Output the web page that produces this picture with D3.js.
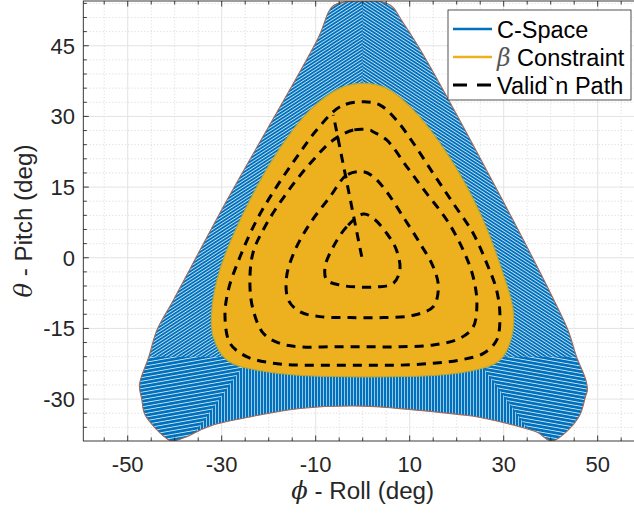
<!DOCTYPE html>
<html>
<head>
<meta charset="utf-8">
<script src="https://cdn.jsdelivr.net/npm/d3@7"></script>
<style>
  html, body { margin: 0; padding: 0; background: #fff; }
  svg { display: block; font-family: "Liberation Sans", Arial, Helvetica, sans-serif; }
</style>
</head>
<body>
<svg id="chart" width="634" height="514"></svg>
<script>
// ---------------- DATA ----------------
// C-Space outer boundary (phi = roll, theta = pitch), degrees
const cspaceRoll  = [-9.5, -6.5, -3.3, 0, 3.8, 6.3, 8.2, 12.3, 29.4, 40.7, 43.7, 45.5, 47.5, 47.8, 47.4, 46.2, 43.7, 40.2,
                     37.0, 32.0, 25.0, 21.6, 10.9, 0, -13.3, -24.0, -31.8, -34.6, -37.4, -40.6,
                     -41.7, -46.3, -47.0, -47.5, -45.5, -43.8, -40.3, -28.9];
const cspacePitch = [46.6, 53.3, 54.4, 54.5, 54.4, 53.3, 50.5, 44.1, 12.9, -9.0, -15.4, -21.0, -26.0, -28.1, -29.5, -33.4, -36.6, -38.9,
                     -37.0, -35.5, -33.9, -33.4, -32.3, -31.5, -32.0, -33.8, -35.5, -36.6, -38.0, -38.9,
                     -38.4, -33.4, -30.1, -27.0, -21.0, -15.4, -9.0, 12.2];

// Beta constraint boundary
const betaRoll  = [0.1, 5.0, 10.8, 17.9, 25.0, 29.6, 32.0, 31.7, 29.2, 22.1, 0.8, -20.4, -28.9, -31.8, -32.1, -30.4, -25.4, -18.3, -11.2, -4.8];
const betaPitch = [37.0, 36.0, 31.35, 22.2, 9.4, -2.6, -11.1, -16.8, -21.7, -24.2, -25.3, -24.2, -21.7, -16.8, -11.1, -2.6, 9.4, 22.2, 31.35, 36.0];

// Validation path: four closed loops + radial segment
const loop1Roll  = [0.13, -3.4, -6.26, -8.0, -7.66, -4.8, -1.28, 3.0, 6.5, 7.9, 7.2, 5.1, 2.26];
const loop1Pitch = [9.27, 6.57, 2.32, -1.9, -4.7, -5.8, -6.2, -6.2, -5.45, -2.6, 1.6, 5.2, 8.35];
const loop2Roll  = [0.13, -3.4, -6.96, -11.2, -14.4, -16.2, -15.8, -13.3, -9.1, -2.7, 4.4, 10.8, 15.0, 16.1, 15.0, 12.2, 8.6, 5.1, 2.26];
const loop2Pitch = [18.25, 17.55, 12.94, 7.3, 1.6, -4.05, -9.0, -11.5, -12.5, -12.7, -12.7, -12.2, -10.4, -6.2, -1.9, 3.05, 8.7, 14.0, 17.2];
const loop3Roll  = [1.55, -2.0, -6.26, -11.2, -16.2, -20.4, -23.3, -24.0, -23.3, -21.1, -17.6, -13.3, -6.26, 0.85, 7.9, 15.0, 20.7, 23.5, 24.3, 23.5, 21.4, 17.9, 13.6, 9.4, 5.1, 2.3];
const loop3Pitch = [27.1, 27.1, 25.0, 20.0, 13.7, 7.3, 1.2, -5.45, -11.1, -16.1, -18.2, -18.9, -18.9, -18.9, -18.9, -18.5, -17.1, -14.7, -9.7, -4.05, 1.6, 8.0, 13.65, 19.3, 25.0, 26.7];
const loop4Roll  = [0.13, -4.83, -9.8, -14.0, -18.3, -22.55, -26.1, -28.6, -29.3, -28.2, -24.7, -19.0, -13.3, -6.3, 0.85, 7.9, 15.0, 20.7, 25.7, 28.5, 29.2, 28.5, 26.4, 23.5, 19.3, 15.0, 10.8, 7.2, 3.7];
const loop4Pitch = [33.1, 32.05, 27.1, 21.4, 15.1, 8.0, 0.2, -6.9, -12.5, -18.2, -21.0, -22.4, -22.8, -22.8, -22.8, -22.8, -22.4, -21.7, -20.3, -17.5, -12.5, -6.9, -1.2, 5.2, 11.5, 17.9, 24.3, 29.2, 32.4];
const radialRoll  = [-0.2, -6.25];
const radialPitch = [0.2, 30.3];

// Axes
const xLimits = [-59.45, 59.45];
const yLimits = [-38.9, 54.5];
const xTicks = [-50, -30, -10, 10, 30, 50];
const yTicks = [-30, -15, 0, 15, 30, 45];
const xMinorStep = 5;
const yMinorStep = 3;
const legendLabels = ["C-Space", "\u03B2 Constraint", "Valid`n Path"];

// ---------------- DRAWING ----------------
const svg = d3.select("#chart");
const L = 83.3, R = 642.1, T = 1, B = 441;
const x = d3.scaleLinear().domain(xLimits).range([L, R]);
const y = d3.scaleLinear().domain(yLimits).range([B, T]);
const ink = "#262626";

const zip = (a, b) => a.map((v, i) => [v, b[i]]);
const rangeStep = (lo, hi, step) => {
  const out = [];
  for (let v = Math.ceil(lo / step) * step; v <= hi + 1e-9; v += step) out.push(+v.toFixed(6));
  return out;
};
const xMinor = rangeStep(xLimits[0], xLimits[1], xMinorStep).filter(v => !xTicks.includes(v));
const yMinor = rangeStep(yLimits[0], yLimits[1], yMinorStep).filter(v => !yTicks.includes(v));

const defs = svg.append("defs");
defs.append("clipPath").attr("id", "axclip")
  .append("rect").attr("x", L).attr("y", T).attr("width", R - L).attr("height", B - T);

function hatch(id, angle, period, thick) {
  const p = defs.append("pattern").attr("id", id)
    .attr("patternUnits", "userSpaceOnUse")
    .attr("width", 12).attr("height", period)
    .attr("patternTransform", `rotate(${angle})`);
  p.append("rect").attr("width", 12).attr("height", thick).attr("fill", "#fff").attr("fill-opacity", 0.8);
}
hatch("hatchL", -33, 2.7, 0.85);
hatch("hatchR", 33, 2.7, 0.85);
hatch("hatchLL", -10, 3.6, 0.9);
hatch("hatchRL", 10, 3.6, 0.9);
hatch("hatchC", 90, 3.0, 0.75);

const closedLine = d3.line().x(d => x(d[0])).y(d => y(d[1])).curve(d3.curveCatmullRomClosed.alpha(0.5));
const openLine = d3.line().x(d => x(d[0])).y(d => y(d[1]));
const polyLine = d3.line().x(d => x(d[0])).y(d => y(d[1])).curve(d3.curveLinearClosed);
const cspacePts = zip(cspaceRoll, cspacePitch);
defs.append("clipPath").attr("id", "csclip")
  .append("path").attr("d", closedLine(cspacePts));

// grid
const grid = svg.append("g");
grid.selectAll(".xmin").data(xMinor).join("line")
  .attr("x1", d => x(d)).attr("x2", d => x(d)).attr("y1", T).attr("y2", B)
  .attr("stroke", "#d6d6d6").attr("stroke-width", 0.8).attr("stroke-dasharray", "1.2,2");
grid.selectAll(".ymin").data(yMinor).join("line")
  .attr("y1", d => y(d)).attr("y2", d => y(d)).attr("x1", L).attr("x2", R)
  .attr("stroke", "#d6d6d6").attr("stroke-width", 0.8).attr("stroke-dasharray", "1.2,2");
grid.selectAll(".xmaj").data(xTicks).join("line")
  .attr("x1", d => x(d)).attr("x2", d => x(d)).attr("y1", T).attr("y2", B)
  .attr("stroke", "#e3e3e3").attr("stroke-width", 1);
grid.selectAll(".ymaj").data(yTicks).join("line")
  .attr("y1", d => y(d)).attr("y2", d => y(d)).attr("x1", L).attr("x2", R)
  .attr("stroke", "#e3e3e3").attr("stroke-width", 1);

// plot
const plot = svg.append("g").attr("clip-path", "url(#axclip)");
plot.append("path").attr("d", closedLine(cspacePts)).attr("fill", "#0072BD");
const hatchG = plot.append("g").attr("clip-path", "url(#csclip)");
const X0 = xLimits[0], X1 = xLimits[1], Y0 = yLimits[0], Y1 = yLimits[1];
const regions = [
  { pts: [[X0, Y1], [0, Y1], [0, -21], [X0, -21]], fill: "url(#hatchL)" },
  { pts: [[0, Y1], [X1, Y1], [X1, -21], [0, -21]], fill: "url(#hatchR)" },
  { pts: [[X0, -21], [-24, -21], [-37, Y0], [X0, Y0]], fill: "url(#hatchLL)" },
  { pts: [[24, -21], [X1, -21], [X1, Y0], [37, Y0]], fill: "url(#hatchRL)" },
  { pts: [[-24, -21], [24, -21], [37, Y0], [-37, Y0]], fill: "url(#hatchC)" }
];
regions.forEach(r => hatchG.append("path").attr("d", polyLine(r.pts)).attr("fill", r.fill));
plot.append("path").attr("d", closedLine(cspacePts)).attr("fill", "none")
  .attr("stroke", "#A0695A").attr("stroke-width", 1.1);

plot.append("path").attr("d", closedLine(zip(betaRoll, betaPitch)))
  .attr("fill", "#EDB120").attr("stroke", "#B3A83A").attr("stroke-width", 1.2);

const dashStyle = sel => sel.attr("fill", "none").attr("stroke", "#000")
  .attr("stroke-width", 3).attr("stroke-dasharray", "9,7").attr("stroke-linecap", "butt");
[[loop1Roll, loop1Pitch], [loop2Roll, loop2Pitch], [loop3Roll, loop3Pitch], [loop4Roll, loop4Pitch]]
  .forEach(([a, b]) => plot.append("path").attr("d", closedLine(zip(a, b))).call(dashStyle));
plot.append("path").attr("d", openLine(zip(radialRoll, radialPitch))).call(dashStyle);

// axes box + ticks
const ax = svg.append("g").attr("stroke", ink).attr("fill", "none");
ax.append("rect").attr("x", L).attr("y", T).attr("width", R - L).attr("height", B - T).attr("stroke-width", 0.9);
const tl = 5.5, tm = 3.5;
xTicks.forEach(v => {
  ax.append("line").attr("x1", x(v)).attr("x2", x(v)).attr("y1", B).attr("y2", B - tl);
  ax.append("line").attr("x1", x(v)).attr("x2", x(v)).attr("y1", T).attr("y2", T + tl);
});
xMinor.forEach(v => {
  ax.append("line").attr("x1", x(v)).attr("x2", x(v)).attr("y1", B).attr("y2", B - tm);
  ax.append("line").attr("x1", x(v)).attr("x2", x(v)).attr("y1", T).attr("y2", T + tm);
});
yTicks.forEach(v => {
  ax.append("line").attr("y1", y(v)).attr("y2", y(v)).attr("x1", L).attr("x2", L + tl);
  ax.append("line").attr("y1", y(v)).attr("y2", y(v)).attr("x1", R).attr("x2", R - tl);
});
yMinor.forEach(v => {
  ax.append("line").attr("y1", y(v)).attr("y2", y(v)).attr("x1", L).attr("x2", L + tm);
  ax.append("line").attr("y1", y(v)).attr("y2", y(v)).attr("x1", R).attr("x2", R - tm);
});
ax.selectAll("line").attr("stroke-width", 0.9);

// tick labels
const tf = 22;
svg.append("g").selectAll("text").data(xTicks).join("text")
  .attr("x", d => x(d)).attr("y", 472).attr("text-anchor", "middle")
  .attr("font-size", tf).attr("fill", ink).text(d => d);
svg.append("g").selectAll("text").data(yTicks).join("text")
  .attr("x", 75).attr("y", d => y(d) + 8).attr("text-anchor", "end")
  .attr("font-size", tf).attr("fill", ink).text(d => d);

// axis labels
const xl = svg.append("text").attr("x", (L + R) / 2).attr("y", 499).attr("text-anchor", "middle")
  .attr("font-size", 24.2).attr("fill", ink);
xl.append("tspan").attr("font-style", "italic").attr("font-family", "'DejaVu Serif', serif").text("\u03D5");
xl.append("tspan").text(" - Roll (deg)");
const yl = svg.append("text").attr("transform", `translate(32,${(T + B) / 2}) rotate(-90)`)
  .attr("text-anchor", "middle").attr("font-size", 24.2).attr("fill", ink);
yl.append("tspan").attr("font-style", "italic").attr("font-family", "'DejaVu Serif', serif").text("\u03B8");
yl.append("tspan").text(" - Pitch (deg)");

// legend
const lg = svg.append("g");
lg.append("rect").attr("x", 448).attr("y", 10).attr("width", 183).attr("height", 90)
  .attr("fill", "#fff").attr("stroke", ink).attr("stroke-width", 0.8);
const rows = [29, 57, 85];
const lstyles = [
  { c: "#0072BD", dash: null },
  { c: "#EDB120", dash: null },
  { c: "#000", dash: "14,10" }
];
legendLabels.forEach((lab, i) => {
  const ln = lg.append("line").attr("x1", 453).attr("x2", 492).attr("y1", rows[i]).attr("y2", rows[i])
    .attr("stroke", lstyles[i].c).attr("stroke-width", lstyles[i].dash ? 3 : 2.5);
  if (lstyles[i].dash) ln.attr("stroke-dasharray", lstyles[i].dash);
  const t = lg.append("text").attr("x", 497).attr("y", rows[i] + 8.5).attr("font-size", 23.5).attr("fill", "#000");
  if (lab.startsWith("\u03B2")) {
    t.append("tspan").attr("font-style", "italic").attr("font-family", "'DejaVu Serif', serif").attr("fill", "#555").text("\u03B2");
    t.append("tspan").text(lab.slice(1));
  } else t.text(lab);
});
</script>
</body>
</html>
